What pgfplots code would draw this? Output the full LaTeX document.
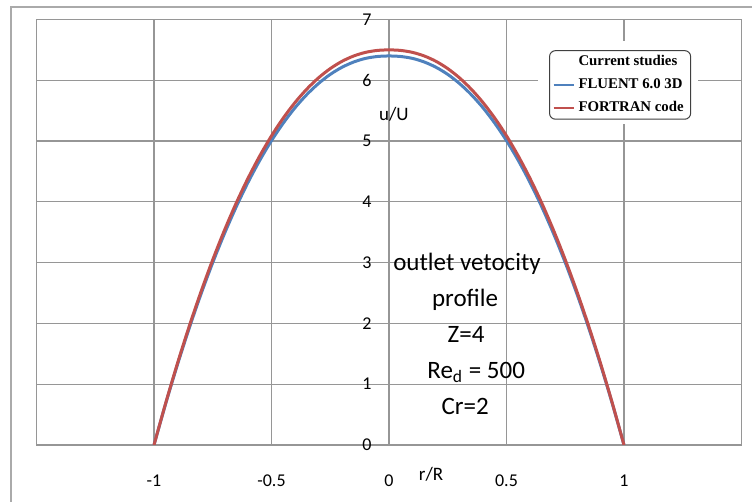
\documentclass[border=0pt]{standalone}
\usepackage{pgfplots}
\pgfplotsset{compat=1.18}
\usepackage{fontspec}
\setmainfont{Carlito}
\newfontfamily\lserif{Liberation Serif}
\definecolor{xlblue}{RGB}{79,129,189}
\definecolor{xlred}{RGB}{192,80,77}
\definecolor{gridgray}{RGB}{150,150,150}
\definecolor{bordergray}{RGB}{170,170,170}
\begin{document}
\begin{tikzpicture}
\useasboundingbox (0pt,0pt) rectangle (376pt,251pt);
\begin{axis}[
  at={(18.25pt,28.5pt)}, anchor=south west,
  scale only axis, width=352.5pt, height=212.75pt,
  xmin=-1.5, xmax=1.5, ymin=0, ymax=7,
  xtick={-1.5,-1,-0.5,0,0.5,1,1.5},
  xticklabels={,-1,-0.5,0,0.5,1,},
  ytick={0,1,2,3,4,5,6,7},
  yticklabels={0,1,2,3,4,5,6,7},
  major tick length=0pt,
  grid=major,
  major grid style={gridgray, line width=0.6pt},
  axis line style={gridgray, line width=0.6pt},
  tick label style={font=\fontsize{9}{10}\selectfont},
  x tick label style={anchor=center, yshift=-17.75pt},
  y tick label style={anchor=center, xshift=165.25pt},
  xlabel={r/R},
  xlabel style={at={(axis description cs:0.5596,-0.068)}, anchor=center, font=\fontsize{9.5}{10}\selectfont},
  ylabel={u/U},
  ylabel style={rotate=-90, at={(axis description cs:0.507,0.778)}, anchor=center, font=\fontsize{9.5}{10}\selectfont},
  legend style={at={(axis description cs:0.727,0.928)}, anchor=north west,
    draw=black!75, rounded corners=3pt, fill=white, line width=0.5pt,
    font=\lserif\bfseries\fontsize{7.4}{8}\selectfont,
    inner xsep=1.5pt, inner ysep=0.5pt, row sep=0.8pt},
  legend cell align=left,
  legend image code/.code={\draw[#1, line width=1pt] (0pt,0pt) -- (10pt,0pt);},
]
\fill[white] (axis description cs:0.711,0.754) rectangle (axis description cs:0.938,0.949);
\addlegendimage{empty legend}
\addlegendentry{Current studies}
\addplot[xlblue, line width=1.5pt, smooth] coordinates {
(-1,0) (-0.95,0.683) (-0.9,1.324) (-0.85,1.924) (-0.8,2.483) (-0.75,3.001)
(-0.7,3.479) (-0.65,3.919) (-0.6,4.320) (-0.55,4.682) (-0.5,5.007) (-0.45,5.295)
(-0.4,5.548) (-0.35,5.764) (-0.3,5.947) (-0.25,6.097) (-0.2,6.214) (-0.15,6.301)
(-0.1,6.360) (-0.05,6.391) (0,6.4)
(0.05,6.391) (0.1,6.360) (0.15,6.301) (0.2,6.214) (0.25,6.097) (0.3,5.947)
(0.35,5.764) (0.4,5.548) (0.45,5.295) (0.5,5.007) (0.55,4.682) (0.6,4.320)
(0.65,3.919) (0.7,3.479) (0.75,3.001) (0.8,2.483) (0.85,1.924) (0.9,1.324)
(0.95,0.683) (1,0)
};
\addlegendentry{FLUENT 6.0 3D}
\addplot[xlred, line width=1.5pt, smooth] coordinates {
(-1,0) (-0.95,0.693) (-0.9,1.345) (-0.85,1.954) (-0.8,2.521) (-0.75,3.048)
(-0.7,3.534) (-0.65,3.981) (-0.6,4.387) (-0.55,4.755) (-0.5,5.086) (-0.45,5.378)
(-0.4,5.634) (-0.35,5.854) (-0.3,6.040) (-0.25,6.192) (-0.2,6.312) (-0.15,6.400)
(-0.1,6.459) (-0.05,6.491) (0,6.5)
(0.05,6.491) (0.1,6.459) (0.15,6.400) (0.2,6.312) (0.25,6.192) (0.3,6.040)
(0.35,5.854) (0.4,5.634) (0.45,5.378) (0.5,5.086) (0.55,4.755) (0.6,4.387)
(0.65,3.981) (0.7,3.534) (0.75,3.048) (0.8,2.521) (0.85,1.954) (0.9,1.345)
(0.95,0.693) (1,0)
};
\addlegendentry{FORTRAN code}
\node[anchor=base, font=\fontsize{12.5}{15}\selectfont] at (axis cs:0.332,2.876) {outlet vetocity};
\node[anchor=base, font=\fontsize{12.5}{15}\selectfont] at (axis cs:0.324,2.281) {profile};
\node[anchor=base, font=\fontsize{12.5}{15}\selectfont] at (axis cs:0.328,1.686) {Z=4};
\node[anchor=base, font=\fontsize{12.5}{15}\selectfont] at (axis cs:0.371,1.091) {Re\textsubscript{d} = 500};
\node[anchor=base, font=\fontsize{12.5}{15}\selectfont] at (axis cs:0.324,0.496) {Cr=2};
\end{axis}
\draw[bordergray, line width=0.8pt] (5.5pt,0pt) -- (5.5pt,247.5pt) -- (376pt,247.5pt);
\end{tikzpicture}
\end{document}
